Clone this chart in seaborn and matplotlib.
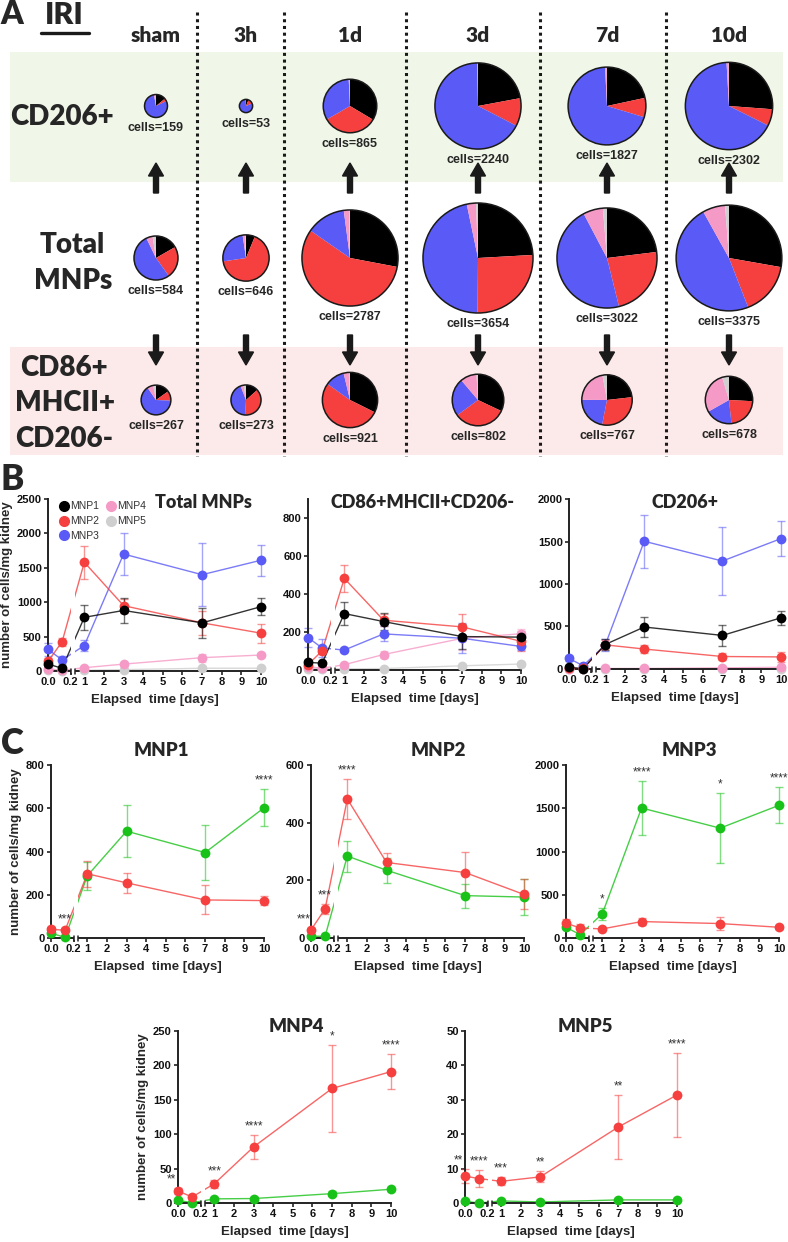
import numpy as np
import pandas as pd
import matplotlib
matplotlib.use('Agg')
import matplotlib.pyplot as plt
from matplotlib.patches import Wedge, Circle, Rectangle, FancyArrow
from matplotlib.lines import Line2D
from matplotlib.transforms import blended_transform_factory
import seaborn as sns

sns.set_theme(style='ticks')
plt.rcParams['font.family'] = ['Liberation Sans', 'DejaVu Sans']

W, H = 788, 1242

# ---------------- data ----------------
days = [0, 0.125, 1, 3, 7, 10]
columns = ['sham', '3h', '1d', '3d', '7d', '10d']
subsets = ['MNP1', 'MNP2', 'MNP3', 'MNP4', 'MNP5']
mnp_colors = ['#000000', '#f5403f', '#5a5af6', '#f59ac6', '#cfcfcf']
red = '#f5403f'
green = '#19c219'

# total MNPs (cells/mg kidney), mean and sd
tot_mnp1 = [100, 40, 780, 880, 700, 935]
tot_mnp2 = [140, 425, 1580, 950, 700, 550]
tot_mnp3 = [315, 160, 370, 1700, 1400, 1610]
tot_mnp4 = [28, 10, 48, 100, 194, 232]
tot_mnp5 = [15, 5, 10, 20, 40, 40]
tot_sd1 = [40, 20, 180, 180, 220, 120]
tot_sd2 = [50, 60, 240, 100, 170, 140]
tot_sd3 = [90, 60, 75, 300, 460, 225]
tot_sd4 = [10, 5, 10, 15, 60, 30]
tot_sd5 = [5, 2, 3, 5, 8, 8]

# CD86+MHCII+CD206-
m1_mnp1 = [40, 36, 297, 255, 176, 173]
m1_mnp2 = [28, 101, 482, 262, 227, 151]
m1_mnp3 = [171, 116, 105, 190, 167, 124]
m1_mnp4 = [17.5, 8.7, 28, 81.5, 166.5, 191]
m1_mnp5 = [7.8, 7.1, 6.3, 7.6, 22.1, 31.4]
m1_sd1 = [12, 8, 60, 45, 67, 22]
m1_sd2 = [8, 18, 70, 33, 70, 52]
m1_sd3 = [50, 45, 12, 40, 78, 20]
m1_sd4 = [5, 2, 6, 17, 63, 26]
m1_sd5 = [2.1, 2.4, 1.2, 1.6, 9.3, 12.3]

# CD206+
m2_mnp1 = [22, 3, 288, 494, 395, 602]
m2_mnp2 = [6, 6, 284, 235, 147, 142]
m2_mnp3 = [124, 39, 280, 1503, 1270, 1534]
m2_mnp4 = [4, 0.3, 6, 6.5, 13.6, 20]
m2_mnp5 = [0.5, 0.0, 0.6, 0.3, 0.9, 0.9]
m2_sd1 = [6, 3, 65, 120, 127, 85]
m2_sd2 = [3, 3, 54, 43, 42, 62]
m2_sd3 = [25, 20, 70, 310, 405, 210]
m2_sd4 = [1.5, 0.3, 1.5, 1.5, 4, 2]
m2_sd5 = [0.2, 0.1, 0.2, 0.1, 0.3, 0.3]

cd206_cells = [159, 53, 865, 2240, 1827, 2302]
total_cells = [584, 646, 2787, 3654, 3022, 3375]
cd86_cells = [267, 273, 921, 802, 767, 678]

sig_mnp1 = {1: '***', 5: '****'}
sig_mnp2 = {0: '***', 1: '***', 2: '****'}
sig_mnp3 = {2: '*', 3: '****', 4: '*', 5: '****'}
sig_mnp4 = {0: '**', 2: '***', 3: '****', 4: '*', 5: '****'}
sig_mnp5 = {0: '**', 1: '****', 2: '***', 3: '**', 4: '**', 5: '****'}

total = [(tot_mnp1, tot_sd1), (tot_mnp2, tot_sd2), (tot_mnp3, tot_sd3),
         (tot_mnp4, tot_sd4), (tot_mnp5, tot_sd5)]
m1 = [(m1_mnp1, m1_sd1), (m1_mnp2, m1_sd2), (m1_mnp3, m1_sd3),
      (m1_mnp4, m1_sd4), (m1_mnp5, m1_sd5)]
m2 = [(m2_mnp1, m2_sd1), (m2_mnp2, m2_sd2), (m2_mnp3, m2_sd3),
      (m2_mnp4, m2_sd4), (m2_mnp5, m2_sd5)]

fig = plt.figure(figsize=(W / 100, H / 100), dpi=100)

# pixel-coordinate canvas for panel A, and an overlay for free text
axA = fig.add_axes([0, 0, 1, 1], zorder=0)
axA.set_xlim(0, W)
axA.set_ylim(H, 0)
axA.axis('off')
axT = fig.add_axes([0, 0, 1, 1], zorder=5, facecolor='none')
axT.set_xlim(0, W)
axT.set_ylim(H, 0)
axT.axis('off')

TITLE_FONT = ['Lato', 'DejaVu Sans']

def ptext(x, y, s, size, family=TITLE_FONT, weight='heavy', **kw):
    axT.text(x, y, s, fontsize=size, fontweight=weight, family=family,
             ha=kw.pop('ha', 'center'), va=kw.pop('va', 'center'), **kw)

# ---------------- panel A ----------------
col_x = [156, 246, 350, 478, 607, 729]
axA.add_patch(Rectangle((10, 52), 773, 130, facecolor='#f0f7e8', edgecolor='none', zorder=0))
axA.add_patch(Rectangle((10, 347), 773, 108, facecolor='#fce9e9', edgecolor='none', zorder=0))
for x in [197, 284, 406, 540, 666]:
    axA.plot([x, x], [12, 456], color='k', lw=2.2, ls=(0, (1, 1.2)), zorder=1)

ptext(12, 15, 'A', 23)
ptext(64, 15, 'IRI', 22)
axA.plot([41, 89], [33, 33], color='k', lw=2.4)
for x, c in zip(col_x, columns):
    ptext(x, 35, c, 15)

ptext(62, 117, 'CD206+', 20)
ptext(72, 245, 'Total', 20)
ptext(73, 281, 'MNPs', 20)
ptext(64, 368, 'CD86+', 20)
ptext(65, 403, 'MHCII+', 20)
ptext(64, 439, 'CD206-', 20)

def draw_pie(cx, cy, values, r):
    tot = float(sum(values))
    start = -90.0
    for v, c in zip(values, mnp_colors):
        span = v / tot * 360.0
        axA.add_patch(Wedge((cx, cy), r, start, start + span, facecolor=c,
                            edgecolor='none', zorder=2))
        start += span
    axA.add_patch(Circle((cx, cy), r, fill=False, edgecolor='k', lw=1.1, zorder=3))

rows = [(m2, cd206_cells, 106), (total, total_cells, 258), (m1, cd86_cells, 400)]
for pop, cells, cy in rows:
    for i, x in enumerate(col_x):
        vals = [m[0][i] for m in pop]
        r = 0.91 * np.sqrt(cells[i])
        draw_pie(x, cy, vals, r)
        ptext(x, cy + r + 11, 'cells=%d' % cells[i], 9, family=['Liberation Sans'],
              weight='bold')

for x in col_x:
    axA.add_artist(FancyArrow(x, 193, 0, -30, width=5, head_width=15, head_length=13,
                              length_includes_head=True, color='k', zorder=3))
    axA.add_artist(FancyArrow(x, 335, 0, 30, width=5, head_width=15, head_length=13,
                              length_includes_head=True, color='k', zorder=3))

# ---------------- line panels ----------------
def to_u(x):
    x = np.asarray(x, float)
    return np.where(x <= 0.2, x * 5.75, x + 0.85)

xt_vals = [0, 0.2, 1, 2, 3, 4, 5, 6, 7, 8, 9, 10]
xt_labs = ['0.0', '0.2'] + [str(v) for v in range(1, 11)]

def panel(box, ymax, yticks):
    left, top, right, bottom = box
    ax = fig.add_axes([left / W, 1 - bottom / H, (right - left) / W, (bottom - top) / H],
                      facecolor='none', zorder=2)
    ax.set_xlim(0, 10.85)
    ax.set_ylim(0, ymax)
    ax.set_xticks(to_u(xt_vals))
    ax.set_xticklabels(xt_labs)
    ax.set_yticks(yticks)
    sns.despine(ax=ax)
    for s in ['left', 'bottom']:
        ax.spines[s].set_linewidth(1.4)
        ax.spines[s].set_color('#222222')
    ax.tick_params(labelsize=8, width=1.2, length=3, pad=1.5, color='#222222',
                   labelcolor='#111111')
    for lab in ax.get_xticklabels() + ax.get_yticklabels():
        lab.set_fontweight('bold')
    tr = blended_transform_factory(ax.transData, ax.transAxes)
    ax.add_patch(Rectangle((1.18, -0.012), 0.21, 1.0, transform=tr, facecolor='white',
                           edgecolor='none', zorder=2.6, clip_on=False))
    for ub in [1.18, 1.39]:
        ax.plot([ub, ub], [-0.02, 0.012], transform=tr, color='#222222', lw=1.1,
                clip_on=False, zorder=2.7)
    return ax

def finish(ax, ylabel=False):
    ax.set_xlabel('Elapsed  time [days]', fontsize=9.5, fontweight='bold', labelpad=5)
    if ylabel:
        ax.set_ylabel('number of cells/mg kidney', fontsize=9.5, fontweight='bold',
                      labelpad=3)
    else:
        ax.set_ylabel('')

def series(ax, mean, sd, color):
    u = to_u(days)
    df = pd.DataFrame({'u': u, 'cells': mean})
    sns.lineplot(data=df, x='u', y='cells', color=color, linewidth=1, alpha=0.8,
                 ax=ax, clip_on=False, zorder=2)
    ax.errorbar(u, mean, yerr=sd, fmt='none', ecolor=color, elinewidth=1, capsize=3,
                capthick=1, alpha=0.55, clip_on=False, zorder=2)
    sns.scatterplot(data=df, x='u', y='cells', color=color, s=50, linewidth=0,
                    ax=ax, clip_on=False, zorder=3)

# panel B
ptext(12, 480, 'B', 25)
b_boxes = [(48, 499, 261, 671), (308, 499, 521, 670), (569, 499, 781, 669)]
b_lims = [(2500, range(0, 2501, 500)), (900, range(0, 801, 200)), (2000, range(0, 2001, 500))]
b_pops = [total, m1, m2]
b_titles = [('Total MNPs', 203, 503), ('CD86+MHCII+CD206-', 423, 503), ('CD206+', 685, 503)]
for k in range(3):
    ax = panel(b_boxes[k], *b_lims[k])
    for j in [4, 3, 2, 1, 0]:
        series(ax, b_pops[k][j][0], b_pops[k][j][1], mnp_colors[j])
    finish(ax, ylabel=(k == 0))
    t, tx, ty = b_titles[k]
    ptext(tx, ty, t, 13)
    if k == 0:
        handles = [Line2D([], [], marker='o', ls='none', color=c, markersize=7)
                   for c in mnp_colors]
        leg = ax.legend(handles, subsets, loc='upper left', bbox_to_anchor=(0.0, 1.04),
                        ncol=2, frameon=False, fontsize=7.5, handletextpad=0.05,
                        columnspacing=0.5, labelspacing=0.45, handlelength=1.2)
        for t_ in leg.get_texts():
            t_.set_color('#333333')

# panel C
ptext(12, 743, 'C', 25)
c_boxes = [(51, 765, 264, 938), (311, 765, 524, 938), (566, 765, 779, 938),
           (178, 1031, 391, 1203), (465, 1031, 677, 1203)]
c_lims = [(800, range(0, 801, 200)), (600, range(0, 601, 200)), (2000, range(0, 2001, 500)),
          (250, range(0, 251, 50)), (50, range(0, 51, 10))]
c_titles = [(161, 750), (438, 750), (689, 750), (296, 1027), (585, 1027)]
c_sigs = [sig_mnp1, sig_mnp2, sig_mnp3, sig_mnp4, sig_mnp5]
for k in range(5):
    ax = panel(c_boxes[k], *c_lims[k])
    g_mean, g_sd = m2[k]
    r_mean, r_sd = m1[k]
    series(ax, g_mean, g_sd, green)
    series(ax, r_mean, r_sd, red)
    finish(ax, ylabel=(k in (0, 3)))
    ptext(c_titles[k][0], c_titles[k][1], subsets[k], 13.5)
    ymax = c_lims[k][0]
    u = to_u(days)
    for i, stars in c_sigs[k].items():
        top = max(r_mean[i] + r_sd[i], g_mean[i] + g_sd[i])
        xu = u[i] if i > 0 else -0.35
        ax.text(xu, top + 0.015 * ymax, stars, ha='center', va='bottom', fontsize=8.5,
                color='#333333', clip_on=False, zorder=4)

fig.savefig('out.png', dpi=100)
